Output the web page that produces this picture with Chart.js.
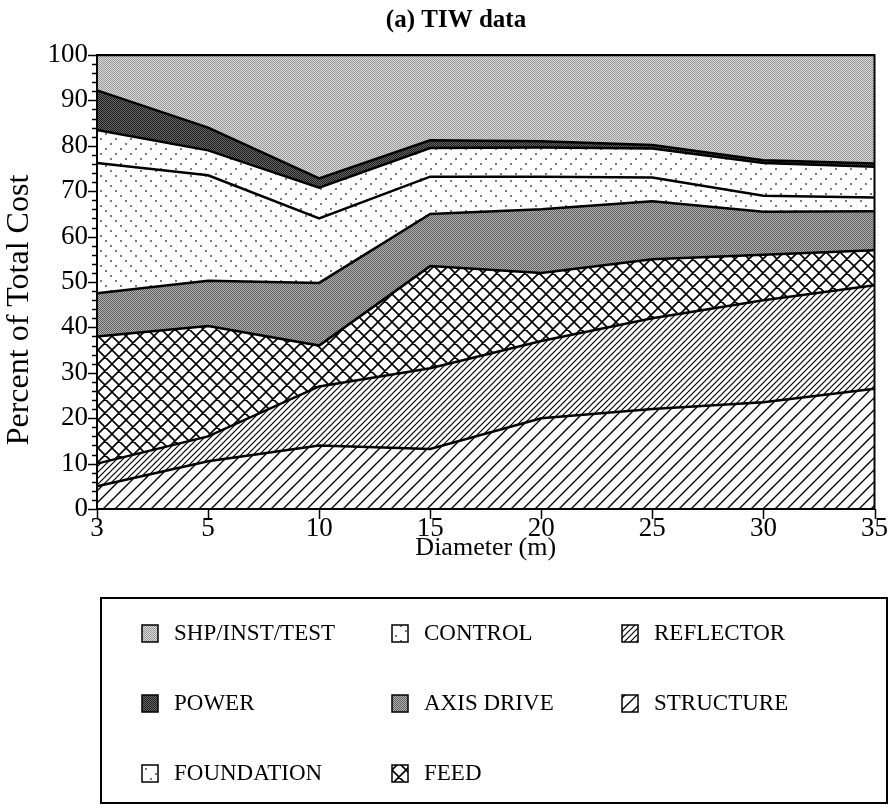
<!DOCTYPE html>
<html>
<head>
<meta charset="utf-8">
<title>(a) TIW data</title>
<script src="https://cdn.jsdelivr.net/npm/chart.js@4.4.1/dist/chart.umd.min.js"></script>
<style>
    html, body { margin: 0; padding: 0; background: #fff; }
</style>
</head>
<body>
<canvas id="costChart" width="892" height="809"></canvas>
<script>
// diameters (m) and percent of total cost per component, bottom layer first
const diameters = ['3', '5', '10', '15', '20', '25', '30', '35'];
const structure  = [5, 10.5, 14, 13.2, 20, 22, 23.5, 26.5];
const reflector  = [5, 5.5, 13, 17.8, 17, 20, 22.5, 22.8];
const feed       = [28, 24.3, 9, 22.5, 15, 13, 10, 7.7];
const axisDrive  = [9.5, 10, 13.8, 11.5, 14, 12.8, 9.5, 8.6];
const control    = [28.7, 23.2, 14.2, 8.2, 7.2, 5.2, 3.5, 3];
const foundation = [7.3, 5.5, 6.8, 6.3, 6.4, 6.4, 7.2, 6.8];
const power      = [8.7, 5, 2, 1.7, 1.4, 0.8, 0.6, 0.7];
const shpInstTest = [7.8, 16, 27.2, 18.8, 19, 19.8, 23.2, 23.9];

// legend reads column by column
const legendOrder = ['SHP/INST/TEST', 'POWER', 'FOUNDATION', 'CONTROL', 'AXIS DRIVE', 'FEED', 'REFLECTOR', 'STRUCTURE'];

const SERIF = "'Liberation Serif', 'DejaVu Serif', serif";

const canvas = document.getElementById('costChart');
const ctx = canvas.getContext('2d');

function makePattern(size, draw) {
    const tile = document.createElement('canvas');
    tile.width = size;
    tile.height = size;
    const g = tile.getContext('2d');
    g.fillStyle = '#fff';
    g.fillRect(0, 0, size, size);
    draw(g, size);
    return ctx.createPattern(tile, 'repeat');
}

function hatch(size, dirs, width) {
    return makePattern(size, (g, s) => {
        g.strokeStyle = '#000';
        g.lineWidth = width;
        g.beginPath();
        dirs.forEach(d => {
            [-s, 0, s].forEach(k => {
                if (d === '/') {
                    g.moveTo(k - 1, s + 1);
                    g.lineTo(k + s + 1, -1);
                } else {
                    g.moveTo(k - 1, -1);
                    g.lineTo(k + s + 1, s + 1);
                }
            });
        });
        g.stroke();
    });
}

function dither(light, dark) {
    return makePattern(2, g => {
        g.fillStyle = light;
        g.fillRect(0, 0, 2, 2);
        g.fillStyle = dark;
        g.fillRect(0, 0, 1, 1);
        g.fillRect(1, 1, 1, 1);
    });
}

function dots(points) {
    return makePattern(15, g => {
        g.fillStyle = '#7a7a7a';
        points.forEach(p => g.fillRect(p[0], p[1], 2, 2));
    });
}

const fills = {
    'STRUCTURE': hatch(12, ['/'], 1.4),
    'REFLECTOR': hatch(6, ['/'], 1.2),
    'FEED': hatch(14, ['/', '\\'], 1.6),
    'AXIS DRIVE': dither('#b0b0b0', '#606060'),
    'CONTROL': dots([[0, 0], [5, 5], [10, 10]]),
    'FOUNDATION': dots([[0, 13], [5, 8], [10, 3]]),
    'POWER': dither('#666', '#1e1e1e'),
    'SHP/INST/TEST': dither('#d8d8d8', '#9a9a9a')
};

function layer(label, values, fill) {
    return {
        label: label,
        data: values,
        fill: fill,
        backgroundColor: fills[label],
        borderColor: '#000',
        borderWidth: 2.5,
        pointRadius: 0,
        tension: 0
    };
}

const frameAndTicks = {
    id: 'frameAndTicks',
    afterDraw(chart) {
        const { ctx, chartArea: a, scales } = chart;
        ctx.save();
        ctx.strokeStyle = '#000';
        ctx.lineWidth = 2;
        ctx.strokeRect(a.left, a.top, a.right - a.left, a.bottom - a.top);
        ctx.lineWidth = 1.5;
        ctx.beginPath();
        for (let v = 0; v <= 100; v += 2) {
            const y = Math.round(scales.y.getPixelForValue(v)) + 0.5;
            ctx.moveTo(a.left, y);
            ctx.lineTo(a.left - (v % 10 === 0 ? 9 : 5), y);
        }
        diameters.forEach((d, i) => {
            const x = Math.round(scales.x.getPixelForValue(i)) + 0.5;
            ctx.moveTo(x, a.bottom);
            ctx.lineTo(x, a.bottom + 10);
        });
        ctx.stroke();

        ctx.fillStyle = '#000';
        ctx.font = 'bold 25px ' + SERIF;
        ctx.textAlign = 'center';
        ctx.textBaseline = 'middle';
        ctx.fillText('(a) TIW data', 456, 21);

        // y axis title sits a little below the middle of the axis
        ctx.font = '32px ' + SERIF;
        ctx.translate(20, 310);
        ctx.rotate(-Math.PI / 2);
        ctx.fillText('Percent of Total Cost', 0, 0);
        ctx.restore();
    }
};

const boxLegend = {
    id: 'boxLegend',
    afterDraw(chart) {
        const ctx = chart.ctx;
        const cols = [142, 392, 622];
        const rows = [633, 703, 773];
        ctx.save();
        ctx.strokeStyle = '#000';
        ctx.lineWidth = 2;
        ctx.strokeRect(101, 598, 786, 205);
        ctx.font = '23px ' + SERIF;
        ctx.textBaseline = 'middle';
        ctx.textAlign = 'left';
        legendOrder.forEach((name, i) => {
            const x = cols[Math.floor(i / 3)];
            const y = rows[i % 3];
            const ds = chart.data.datasets.find(d => d.label === name);
            ctx.fillStyle = ds.backgroundColor;
            ctx.fillRect(x, y - 8, 16, 17);
            ctx.lineWidth = 1.5;
            ctx.strokeRect(x, y - 8, 16, 17);
            ctx.fillStyle = '#000';
            ctx.fillText(name, x + 32, y + 1);
        });
        ctx.restore();
    }
};

new Chart(ctx, {
    type: 'line',
    data: {
        labels: diameters,
        datasets: [
            layer('STRUCTURE', structure, 'origin'),
            layer('REFLECTOR', reflector, '-1'),
            layer('FEED', feed, '-1'),
            layer('AXIS DRIVE', axisDrive, '-1'),
            layer('CONTROL', control, '-1'),
            layer('FOUNDATION', foundation, '-1'),
            layer('POWER', power, '-1'),
            layer('SHP/INST/TEST', shpInstTest, '-1')
        ]
    },
    options: {
        responsive: false,
        animation: false,
        events: [],
        layout: {
            padding: { top: 55, right: 15, bottom: 245, left: 0 }
        },
        plugins: {
            legend: { display: false },
            tooltip: { enabled: false },
            title: { display: false }
        },
        scales: {
            x: {
                grid: { display: false, drawTicks: false },
                border: { display: false },
                afterFit(scale) { scale.height = 55; },
                ticks: {
                    color: '#000',
                    padding: 4,
                    maxRotation: 0,
                    font: { family: SERIF, size: 27 }
                },
                title: {
                    display: true,
                    text: 'Diameter (m)',
                    color: '#000',
                    padding: { top: 0, bottom: 0 },
                    font: { family: SERIF, size: 26 }
                }
            },
            y: {
                stacked: true,
                min: 0,
                max: 100,
                grid: { display: false, drawTicks: false },
                border: { display: false },
                afterFit(scale) { scale.width = 97; },
                ticks: {
                    stepSize: 10,
                    color: '#000',
                    padding: 9,
                    font: { family: SERIF, size: 27 }
                }
            }
        }
    },
    plugins: [frameAndTicks, boxLegend]
});
</script>
</body>
</html>
